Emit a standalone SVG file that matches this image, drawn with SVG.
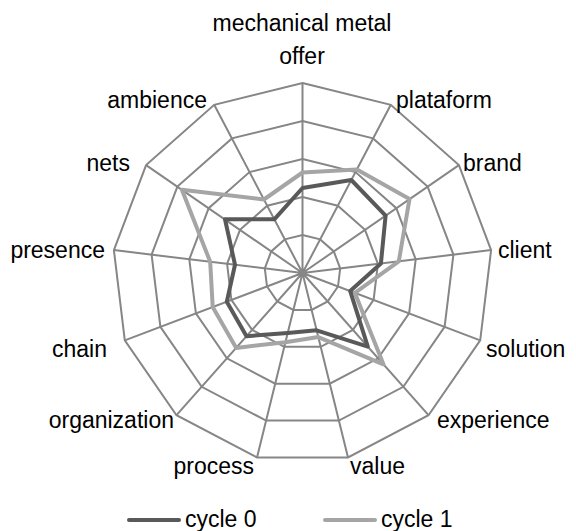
<svg xmlns="http://www.w3.org/2000/svg" width="576" height="531" viewBox="0 0 576 531">
<style>
.grid{fill:none;stroke:#868686;stroke-width:2;stroke-linejoin:miter}
.s0{fill:none;stroke:#595959;stroke-width:4;stroke-linejoin:round}
.s1{fill:none;stroke:#A5A5A5;stroke-width:4;stroke-linejoin:round}
text{font-family:"Liberation Sans",Arial,sans-serif;font-size:23px;fill:#000}
</style>
<rect width="576" height="531" fill="#fff"/>
<g id="grid" transform="translate(302.5,273)">
<polygon class="grid" points="0,-190 88.3,-168.2 156.4,-107.9 188.6,-22.9 177.7,67.4 126,142.2 45.5,184.5 -45.5,184.5 -126,142.2 -177.7,67.4 -188.6,-22.9 -156.4,-107.9 -88.3,-168.2"/>
<polygon class="grid" points="0,-152 70.6,-134.6 125.1,-86.4 150.9,-18.3 142.1,53.9 100.8,113.8 36.4,147.6 -36.4,147.6 -100.8,113.8 -142.1,53.9 -150.9,-18.3 -125.1,-86.4 -70.6,-134.6"/>
<polygon class="grid" points="0,-114 53,-100.9 93.8,-64.8 113.2,-13.7 106.6,40.4 75.6,85.3 27.3,110.7 -27.3,110.7 -75.6,85.3 -106.6,40.4 -113.2,-13.7 -93.8,-64.8 -53,-100.9"/>
<polygon class="grid" points="0,-76 35.3,-67.3 62.5,-43.2 75.4,-9.2 71.1,26.9 50.4,56.9 18.2,73.8 -18.2,73.8 -50.4,56.9 -71.1,26.9 -75.4,-9.2 -62.5,-43.2 -35.3,-67.3"/>
<polygon class="grid" points="0,-38 17.7,-33.6 31.3,-21.6 37.7,-4.6 35.5,13.5 25.2,28.4 9.1,36.9 -9.1,36.9 -25.2,28.4 -35.5,13.5 -37.7,-4.6 -31.3,-21.6 -17.7,-33.6"/>
<path class="grid" d="M0,0L0,-190M0,0L88.3,-168.2M0,0L156.4,-107.9M0,0L188.6,-22.9M0,0L177.7,67.4M0,0L126,142.2M0,0L45.5,184.5M0,0L-45.5,184.5M0,0L-126,142.2M0,0L-177.7,67.4M0,0L-188.6,-22.9M0,0L-156.4,-107.9M0,0L-88.3,-168.2"/>
</g>
<g id="series" transform="translate(302.5,273)">
<polygon id="cycle1" class="s1" points="0,-100.5 54.4,-103.6 107,-73.9 96.3,-11.7 52.4,19.9 80.9,91.3 15.8,64.1 -17.1,69.2 -66.3,74.9 -89.8,34 -92.3,-11.2 -120.6,-83.2 -38.6,-73.5"/>
<polygon id="cycle0" class="s0" points="0,-85 48.8,-93 83.1,-57.4 78.4,-9.5 47.7,18.1 65.3,73.7 14.1,57.3 -14.8,60 -56,63.2 -75.7,28.7 -67.5,-8.2 -77.5,-53.7 -28.2,-53.7"/>
</g>
<g id="labels">
<text x="302" y="31" text-anchor="middle">mechanical metal</text>
<text x="302" y="64" text-anchor="middle">offer</text>
<text x="396" y="108">plataform</text>
<text x="463" y="171">brand</text>
<text x="498" y="258">client</text>
<text x="486" y="357">solution</text>
<text x="437" y="428">experience</text>
<text x="350" y="474">value</text>
<text x="254" y="474" text-anchor="end">process</text>
<text x="174" y="428" text-anchor="end">organization</text>
<text x="107" y="357" text-anchor="end">chain</text>
<text x="105" y="258" text-anchor="end">presence</text>
<text x="130" y="171" text-anchor="end">nets</text>
<text x="207" y="108" text-anchor="end">ambience</text>
</g>
<g id="legend">
<line x1="129" y1="520" x2="179" y2="520" stroke="#595959" stroke-width="4" stroke-linecap="round"/>
<text x="185" y="527">cycle 0</text>
<line x1="325" y1="520" x2="375" y2="520" stroke="#A5A5A5" stroke-width="4" stroke-linecap="round"/>
<text x="381" y="527">cycle 1</text>
</g>
</svg>
